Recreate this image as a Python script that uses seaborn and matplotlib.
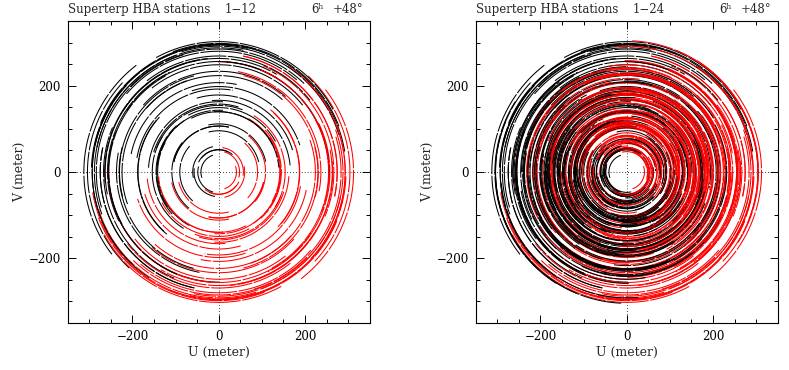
import matplotlib
matplotlib.use("Agg")
import matplotlib.pyplot as plt
import numpy as np
import pandas as pd
import seaborn as sns
from matplotlib.ticker import MultipleLocator

# station positions (east, north) in meter, stations 1-24
station_east = [98, 52, 158, 141, -38, -89, 84, -146, 47, -152, -61, -103,
                15, 55, 70, -20, -75, 10, -55, 20, -100, -25, -95, -140]
station_north = [-112, -146, -18, 31, -151, -119, 121, -29, 139, 22, 128, 104,
                 80, 35, -45, 35, 60, -35, -10, -100, 20, -75, -65, -85]
track_hours = 6
panel_stations = [12, 24]
panel_labels = ["1\u221212", "1\u221224"]
source_labels = ["6\u02b0", "+48\u00b0"]
tick_labels = ["\u2212200", "0", "200"]


def uv_tracks(n_stations):
    # one arc per baseline plus its conjugate, baseline turning with hour angle
    ha = np.radians(np.linspace(-track_hours / 2, track_hours / 2, 61) * 15)
    rows = []
    order = []
    palette = {}
    for j in range(n_stations):
        for i in range(j):
            be = station_east[j] - station_east[i]
            bn = station_north[j] - station_north[i]
            u = be * np.cos(ha) + bn * np.sin(ha)
            v = -be * np.sin(ha) + bn * np.cos(ha)
            for sign, col, tag in [(1, "black", "b"), (-1, "red", "c")]:
                key = f"{i}-{j}{tag}"
                order.append(key)
                palette[key] = col
                rows.append(pd.DataFrame({"u": sign * u, "v": sign * v, "arc": key}))
    return pd.concat(rows, ignore_index=True), order, palette


sns.set_style("ticks")
plt.rcParams["font.family"] = ["DejaVu Serif"]
plt.rcParams["axes.linewidth"] = 0.8

fig = plt.figure(figsize=(7.89, 3.70), dpi=100)
lefts = [67.7 / 789, 475.7 / 789]
for left, n, lab in zip(lefts, panel_stations, panel_labels):
    ax = fig.add_axes([left, 47 / 370, 302 / 789, 302 / 370])
    df, order, palette = uv_tracks(n)
    ax.axhline(0, color="black", lw=0.6, ls=(0, (1, 2.5)), zorder=0.5)
    ax.axvline(0, color="black", lw=0.6, ls=(0, (1, 2.5)), zorder=0.5)
    sns.lineplot(data=df, x="u", y="v", hue="arc", hue_order=order,
                 palette=palette, estimator=None, sort=False, legend=False,
                 lw=0.75, linestyle=(0, (40, 1.5)), ax=ax)
    ax.set_xlim(-350, 350)
    ax.set_ylim(-350, 350)
    ax.set_xticks([-200, 0, 200])
    ax.set_yticks([-200, 0, 200])
    ax.set_xticklabels(tick_labels)
    ax.set_yticklabels(tick_labels)
    ax.xaxis.set_minor_locator(MultipleLocator(50))
    ax.yaxis.set_minor_locator(MultipleLocator(50))
    ax.tick_params(which="both", direction="in", top=True, right=True,
                   width=0.7, labelsize=8.5, colors="black", pad=5)
    ax.tick_params(which="major", length=6)
    ax.tick_params(which="minor", length=3)
    ax.set_xlabel("U (meter)", fontsize=9, labelpad=2)
    ax.set_ylabel("V (meter)", fontsize=9, labelpad=2)
    for s in ax.spines.values():
        s.set_color("black")
    ax.text(0.0, 1.015, "Superterp HBA stations", transform=ax.transAxes,
            fontsize=8.5, ha="left", va="bottom")
    ax.text(0.52, 1.015, lab, transform=ax.transAxes, fontsize=8.5,
            ha="left", va="bottom")
    ax.text(0.805, 1.015, source_labels[0], transform=ax.transAxes,
            fontsize=8.5, ha="left", va="bottom")
    ax.text(0.878, 1.015, source_labels[1], transform=ax.transAxes,
            fontsize=8.5, ha="left", va="bottom")

fig.savefig("out.png", dpi=100)
